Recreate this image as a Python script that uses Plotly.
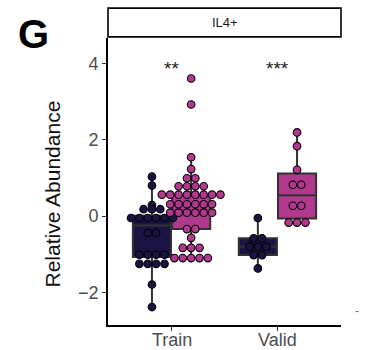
import numpy as np
import plotly.graph_objects as go

# Relative abundance of IL4+ cells per sample, by cohort and group
categories = ["Train", "Valid"]
cat_pos = [1, 2]

dark_train = [1.03, 0.80, 0.29, 0.18, 0.18, 0.18,
              -0.05, -0.05, -0.05, -0.05, -0.05, -0.05,
              -0.44, -0.44, -1.01, -1.01, -1.01, -1.01,
              -1.25, -1.25, -1.25, -1.25, -1.79, -2.38]
pink_train = [3.60, 2.92, 1.54, 1.23, 0.99, 0.99,
              0.78, 0.78, 0.78, 0.78,
              0.56, 0.56, 0.56, 0.56, 0.56, 0.56, 0.56, 0.56,
              0.31, 0.31, 0.31, 0.31, 0.31, 0.31,
              0.09, 0.09, 0.09, 0.09, 0.09, 0.09,
              -0.34, -0.34, -0.57, -0.83, -0.83, -0.83,
              -1.10, -1.10, -1.10, -1.10, -1.10]
dark_valid = [-0.05, -0.58, -0.58, -0.80, -0.80, -0.80, -1.02, -1.02, -1.37]
pink_valid = [2.19, 1.83, 1.21, 0.82, 0.82, 0.27, 0.27, -0.17, -0.17, -0.17]

signif = ["**", "***"]
star_y = 3.86

DARK = "#1b1343"
PINK = "#b0388d"
EDGE = "#333333"
FONT = "Liberation Sans, Arial, sans-serif"

DODGE = 0.185
BOX_W = 0.36
DOT_STEP = 0.079  # horizontal distance between stacked dots (x units)

groups = [
    (dark_train, cat_pos[0] - DODGE, DARK),
    (pink_train, cat_pos[0] + DODGE, PINK),
    (dark_valid, cat_pos[1] - DODGE, DARK),
    (pink_valid, cat_pos[1] + DODGE, PINK),
]


def box_stats(vals):
    v = np.sort(np.asarray(vals, dtype=float))
    q1, med, q3 = np.percentile(v, [25, 50, 75])
    iqr = q3 - q1
    lo = v[v >= q1 - 1.5 * iqr].min()
    hi = v[v <= q3 + 1.5 * iqr].max()
    return q1, med, q3, lo, hi


def stack_centered(vals, center):
    """Centre-stacked dot positions: equal values share a row."""
    xs, ys = [], []
    for val in dict.fromkeys(vals):
        n = vals.count(val)
        for i in range(n):
            xs.append(center + (i - (n - 1) / 2) * DOT_STEP)
            ys.append(val)
    return xs, ys


fig = go.Figure()

for vals, xc, col in groups:
    q1, med, q3, lo, hi = box_stats(vals)
    fig.add_trace(go.Box(
        x=[xc], q1=[q1], median=[med], q3=[q3],
        lowerfence=[lo], upperfence=[hi],
        width=BOX_W, fillcolor=col, whiskerwidth=0,
        line=dict(color=EDGE, width=2),
        boxpoints=False, showlegend=False, hoverinfo="skip",
    ))

for vals, xc, col in groups:
    xs, ys = stack_centered(vals, xc)
    fig.add_trace(go.Scatter(
        x=xs, y=ys, mode="markers", showlegend=False,
        marker=dict(size=7.6, color=col, line=dict(color="black", width=1.1)),
    ))

for pos, s in zip(cat_pos, signif):
    fig.add_annotation(x=pos, y=star_y, text=s, showarrow=False,
                       font=dict(family=FONT, size=19, color="#222222"),
                       xanchor="center", yanchor="middle")

# category labels under the x axis, kept tight to the ticks
for pos, lab in zip(cat_pos, categories):
    fig.add_annotation(x=pos, xref="x", yref="paper", y=-0.051, text=lab,
                       showarrow=False, font=dict(family=FONT, size=18, color="#4d4d4d"),
                       xanchor="center", yanchor="middle")

# facet strip
fig.add_shape(type="rect", xref="paper", yref="paper",
              x0=0.0, x1=1.0, y0=1.004, y1=1.104,
              line=dict(color="black", width=1.6), fillcolor="white")
fig.add_annotation(xref="paper", yref="paper", x=0.5, y=1.054, text="IL4+",
                   showarrow=False, font=dict(family=FONT, size=13, color="#1a1a1a"),
                   xanchor="center", yanchor="middle")

# axis title and panel tag
fig.add_annotation(xref="paper", yref="paper", x=-0.24, y=0.455,
                   text="Relative Abundance", textangle=-90, showarrow=False,
                   font=dict(family=FONT, size=21, color="#111111"),
                   xanchor="center", yanchor="middle")
fig.add_annotation(xref="paper", yref="paper", x=-0.318, y=1.013, text="<b>G</b>",
                   showarrow=False, font=dict(family=FONT, size=40, color="black"),
                   xanchor="center", yanchor="middle")
fig.add_annotation(xref="paper", yref="paper", x=1.07, y=0.05, text="-",
                   showarrow=False, font=dict(family=FONT, size=12, color="#666666"),
                   xanchor="center", yanchor="middle")

fig.update_layout(
    width=374, height=350,
    margin=dict(l=108, r=33, t=38, b=25, autoexpand=False),
    plot_bgcolor="white", paper_bgcolor="white",
    font=dict(family=FONT),
)
fig.update_xaxes(
    range=[0.4, 2.6], tickvals=cat_pos, showticklabels=False, automargin=False,
    showgrid=False, zeroline=False, showline=True, linecolor="black", linewidth=1.6,
    ticks="outside", ticklen=4, tickwidth=1.4, tickcolor="#333333",
)
fig.update_yaxes(
    range=[-2.85, 4.66], tickvals=[-2, 0, 2, 4], automargin=False,
    ticktext=["\u22122", "0", "2", "4"],
    showgrid=False, zeroline=False, showline=True, linecolor="black", linewidth=1.6,
    ticks="outside", ticklen=4, tickwidth=1.4, tickcolor="#333333",
    tickfont=dict(family=FONT, size=18, color="#4d4d4d"),
)

fig.write_html("out.html")
